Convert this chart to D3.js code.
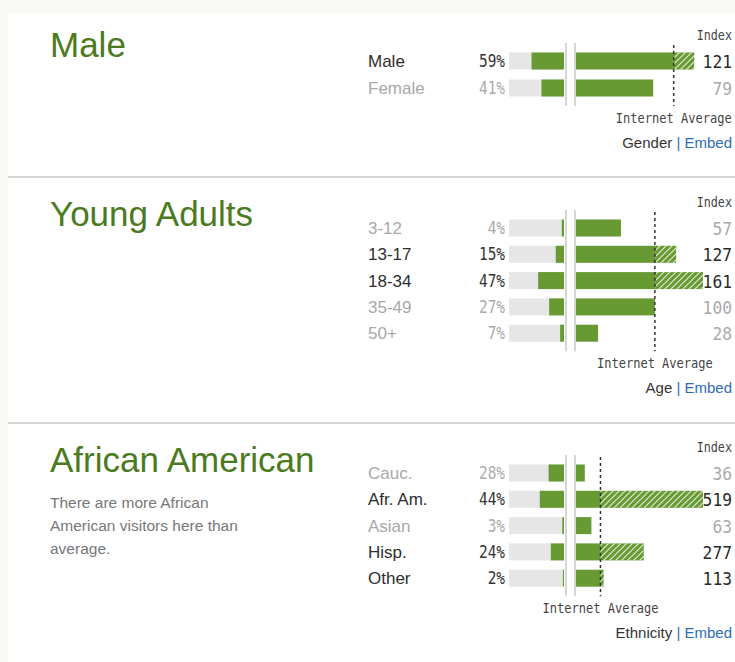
<!DOCTYPE html>
<html>
<head>
<meta charset="utf-8">
<script src="https://cdn.jsdelivr.net/npm/d3@7"></script>
<style>
  body { margin: 0; background: #f8f8f4; }
  svg { display: block; }
</style>
</head>
<body>
<script>
// data
const sectionTitles = ["Male", "Young Adults", "African American"];
const sectionFooters = ["Gender", "Age", "Ethnicity"];

const genderLabels = ["Male", "Female"];
const genderShare = [59, 41];
const genderIndex = [121, 79];

const ageLabels = ["3-12", "13-17", "18-34", "35-49", "50+"];
const ageShare = [4, 15, 47, 27, 7];
const ageIndex = [57, 127, 161, 100, 28];

const ethLabels = ["Cauc.", "Afr. Am.", "Asian", "Hisp.", "Other"];
const ethShare = [28, 44, 3, 24, 2];
const ethIndex = [36, 519, 63, 277, 113];

const description = ["There are more African", "American visitors here than", "average."];

const width = 735, height = 662;
const green = "#679a32", titleGreen = "#4b7a20";
const mono = "'DejaVu Sans Mono', monospace";
const sans = "'Liberation Sans', Arial, sans-serif";

const svg = d3.select("body").append("svg")
  .attr("width", width)
  .attr("height", height);

svg.append("rect")
  .attr("x", 8).attr("y", 14)
  .attr("width", width - 8).attr("height", height - 14)
  .attr("fill", "#fff");

const defs = svg.append("defs");
defs.append("pattern")
  .attr("id", "hatch")
  .attr("patternUnits", "userSpaceOnUse")
  .attr("width", 6).attr("height", 6)
  .append("path")
  .attr("d", "M-1,1 l2,-2 M0,6 l6,-6 M5,7 l2,-2")
  .attr("stroke", "#fff")
  .attr("stroke-opacity", 0.8)
  .attr("stroke-width", 1.1);

// separators between sections
[177, 423].forEach(y => {
  svg.append("line")
    .attr("x1", 8).attr("x2", width)
    .attr("y1", y).attr("y2", y)
    .attr("stroke", "#d4d4d4")
    .attr("stroke-width", 2);
});

// condensed monospace text
function monoText(g, x, y, txt, size, sx, color, anchor) {
  return g.append("text")
    .attr("transform", "translate(" + x + "," + y + ") scale(" + sx + ",1)")
    .attr("text-anchor", anchor || "end")
    .style("font-family", mono)
    .style("font-size", size + "px")
    .attr("fill", color)
    .text(txt);
}

function drawSection(i, titleY, row0, labels, share, index) {
  const g = svg.append("g");
  const rowStep = labels.length == 2 ? 27 : 26.3;
  const rows = labels.map((d, j) => row0 + j * rowStep);
  const last = rows[rows.length - 1];
  const barH = 17;

  g.append("text")
    .attr("x", 50).attr("y", titleY)
    .style("font-family", sans)
    .style("font-size", "35px")
    .attr("fill", titleGreen)
    .text(sectionTitles[i]);

  const shareScale = d3.scaleLinear().domain([0, 100]).range([564, 509]);
  const indexScale = d3.scaleLinear()
    .domain([0, Math.max(d3.max(index), 130)])
    .range([576, 703]);

  monoText(g, 732, row0 - 21, "Index", 14, 0.84, "#444");

  // center lines
  [566, 575].forEach(x => {
    g.append("line")
      .attr("x1", x).attr("x2", x)
      .attr("y1", row0 - 18).attr("y2", last + 18)
      .attr("stroke", "#c8c8c8")
      .attr("stroke-width", 1.5);
  });

  labels.forEach((lab, j) => {
    const y = rows[j];
    const hi = index[j] > 100;
    g.append("text")
      .attr("x", 368).attr("y", y + 6)
      .style("font-family", sans)
      .style("font-size", "17px")
      .attr("fill", hi ? "#2e2e2e" : "#a8a8a8")
      .text(lab);

    monoText(g, 505, y + 6, share[j] + "%", 18, 0.8, hi ? "#333" : "#aaa");

    g.append("rect")
      .attr("x", shareScale(100)).attr("y", y - barH / 2)
      .attr("width", shareScale(0) - shareScale(100)).attr("height", barH)
      .attr("fill", "#e6e6e6");
    g.append("rect")
      .attr("x", shareScale(share[j])).attr("y", y - barH / 2)
      .attr("width", shareScale(0) - shareScale(share[j])).attr("height", barH)
      .attr("fill", green);

    g.append("rect")
      .attr("x", indexScale(0)).attr("y", y - barH / 2)
      .attr("width", indexScale(index[j]) - indexScale(0)).attr("height", barH)
      .attr("fill", green);
    if (hi) {
      g.append("rect")
        .attr("x", indexScale(100)).attr("y", y - barH / 2)
        .attr("width", indexScale(index[j]) - indexScale(100)).attr("height", barH)
        .attr("fill", "url(#hatch)");
    }

    monoText(g, 732, y + 7, index[j], 18.5, 0.88, hi ? "#2a2a2a" : "#aaa");
  });

  const avgX = indexScale(100);
  g.append("line")
    .attr("x1", avgX).attr("x2", avgX)
    .attr("y1", row0 - 16).attr("y2", last + 18)
    .attr("stroke", "#333")
    .attr("stroke-width", 1.5)
    .attr("stroke-dasharray", "3,3");

  monoText(g, avgX, last + 35, "Internet Average", 14, 0.86, "#444", "middle");

  const foot = g.append("text")
    .attr("x", 732).attr("y", last + 60)
    .attr("text-anchor", "end")
    .style("font-family", sans)
    .style("font-size", "15px");
  foot.append("tspan").attr("fill", "#333").text(sectionFooters[i] + " ");
  foot.append("tspan").attr("fill", "#2f6db5").text("|");
  foot.append("tspan").attr("fill", "#2f6db5").text(" Embed");
  return g;
}

drawSection(0, 57, 61, genderLabels, genderShare, genderIndex);
drawSection(1, 226, 228, ageLabels, ageShare, ageIndex);
const eth = drawSection(2, 472, 473, ethLabels, ethShare, ethIndex);

eth.append("text")
  .style("font-family", sans)
  .style("font-size", "15.5px")
  .attr("fill", "#777")
  .selectAll("tspan")
  .data(description)
  .join("tspan")
  .attr("x", 50)
  .attr("y", (d, k) => 508 + k * 23)
  .text(d => d);
</script>
</body>
</html>
